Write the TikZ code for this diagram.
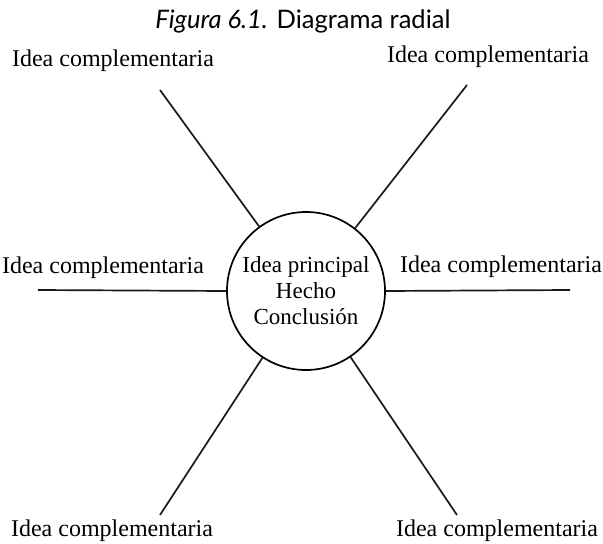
\documentclass[tikz,border=0pt]{standalone}
\usepackage{fontspec}
\setmainfont{Liberation Serif}
\newfontfamily\titlefont{Lato}
\usetikzlibrary{positioning}
\tikzset{
	idea/.style={inner sep=1pt, align=center, font=\fontsize{24}{26}\selectfont},
	mainidea/.style={circle, draw=black, line width=1.7pt, minimum size=158pt,
		inner sep=0pt, align=center, font=\fontsize{23}{26}\selectfont},
	spoke/.style={line width=1.7pt, black!90},
	titlelabel/.style={font=\titlefont\fontsize{25.5}{28}\selectfont},
}
\begin{document}
\begin{tikzpicture}[x=1pt, y=-1pt]
	\useasboundingbox (0,0) rectangle (603,544);
	\node[titlelabel](title) at (303,21){\textit{Figura 6.1.} Diagrama radial};
	\node[mainidea](main) at (306,291){Idea principal\\Hecho\\Conclusión};
	% ends of the spokes
	\coordinate (ul) at (160,90);
	\coordinate (ur) at (467,85);
	\coordinate (le) at (38,290);
	\coordinate (ri) at (570,290);
	\coordinate (ll) at (160,515);
	\coordinate (lr) at (457,515);
	\draw[spoke](ul)--(main);\draw[spoke](ur)--(main);
	\draw[spoke](le)--(main.west);\draw[spoke](ri)--(main.east);
	\draw[spoke](ll)--(main);\draw[spoke](lr)--(main);
	% labels
	\node[idea](tul) at (113,61){Idea complementaria};
	\node[idea](tur) at (488,57){Idea complementaria};
	\node[idea](tle) at (103,268){Idea complementaria};
	\node[idea](tri) at (501,267){Idea complementaria};
	\node[idea](tll) at (112,531){Idea complementaria};
	\node[idea](tlr) at (497,531){Idea complementaria};
\end{tikzpicture}
\end{document}
